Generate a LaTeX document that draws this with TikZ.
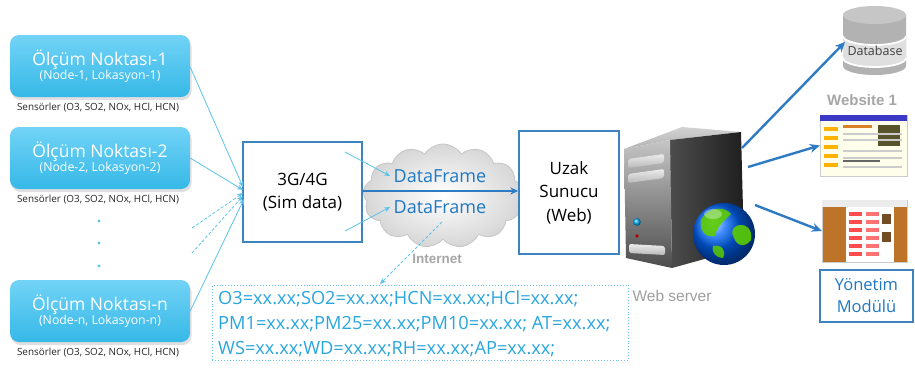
\documentclass[tikz,border=0pt]{standalone}
\usepackage{fontspec}
\setmainfont{Open Sans}
\newfontfamily\arialfont{Liberation Sans}
\usetikzlibrary{shapes.symbols,shadows,arrows.meta}

\definecolor{nodetop}{HTML}{72D3F6}
\definecolor{nodebot}{HTML}{36B8E7}
\definecolor{wire}{HTML}{5CC3EA}
\definecolor{frameblue}{HTML}{3C83C0}
\definecolor{dfblue}{HTML}{1E78C2}
\definecolor{msgblue}{HTML}{2AA6DE}
\definecolor{arrowblue}{HTML}{2E7BC4}
\definecolor{labelgrey}{HTML}{6E6E6E}

\tikzset{
  sensorbox/.style={rounded corners=9pt, top color=nodetop, bottom color=nodebot,
    minimum width=180pt, minimum height=62pt, text=white, align=center,
    drop shadow={opacity=0.25, shadow xshift=1.5pt, shadow yshift=-3pt}},
  sensorlbl/.style={font=\fontsize{9.9}{11}\selectfont, text=black!85},
  framebox/.style={draw=frameblue, line width=1.4pt, fill=white, align=center,
    font=\fontsize{17}{23.5}\selectfont},
  wireline/.style={wire, line width=0.8pt, -{Stealth[length=6pt,width=5pt]}},
  wiredash/.style={wire, line width=0.8pt, densely dashed, -{Stealth[length=6pt,width=5pt]}},
  bigarrow/.style={arrowblue, line width=2.4pt, -{Stealth[length=10pt,width=9pt]}},
  greylbl/.style={font=\arialfont, text=labelgrey},
}

\begin{document}
\begin{tikzpicture}[x=1pt,y=-1pt]
\path[fill=white, use as bounding box] (0,0) rectangle (915,368);

% measuring points
\node[sensorbox] (n1) at (100,66) {{\fontsize{17.5}{19}\selectfont Ölçüm Noktası-1}\\[-1pt]{\fontsize{12.3}{14}\selectfont (Node-1, Lokasyon-1)}};
\node[sensorbox] (n2) at (100,158) {{\fontsize{17.5}{19}\selectfont Ölçüm Noktası-2}\\[-1pt]{\fontsize{12.3}{14}\selectfont (Node-2, Lokasyon-2)}};
\node[sensorbox] (nn) at (100,311) {{\fontsize{17.5}{19}\selectfont Ölçüm Noktası-n}\\[-1pt]{\fontsize{12.3}{14}\selectfont (Node-n, Lokasyon-n)}};
\node[sensorlbl] (s1) at (98,108) {Sensörler (O3, SO2, NOx, HCl, HCN)};
\node[sensorlbl] (s2) at (98,200) {Sensörler (O3, SO2, NOx, HCl, HCN)};
\node[sensorlbl] (sn) at (98,353) {Sensörler (O3, SO2, NOx, HCl, HCN)};
\foreach \yy in {221,243,266} \fill[wire] (99,\yy) circle (1.6);

% gateway
\node[framebox, minimum width=119pt, minimum height=100pt] (g) at (302.5,192) {3G/4G\\(Sim data)};

% links from the measuring points into the gateway
\coordinate (d1) at (192,228);
\coordinate (d2) at (192,253);
\draw[wireline] (n1.east |- 0,67) -- (243,187);
\draw[wireline] (n2.east) -- (243,190);
\draw[wiredash] (d1) -- (243,193);
\draw[wiredash] (d2) -- (243,196);
\draw[wireline] (nn.east) -- (244,199);

% internet cloud
\node[cloud, cloud puffs=13, cloud puff arc=115, aspect=1.6, minimum width=160pt, minimum height=104pt,
  draw=gray!45, line width=0.8pt, inner color=white, outer color=gray!32] (cl) at (443,196) {};
\node[greylbl, font=\arialfont\bfseries\fontsize{13.5}{15}\selectfont, text=gray!70] (inet) at (437,259) {Internet};
\node[text=dfblue, font=\fontsize{18}{20}\selectfont] (df1) at (440,176) {DataFrame};
\node[text=dfblue, font=\fontsize{18}{20}\selectfont] (df2) at (440,207) {DataFrame};
\coordinate (a1) at (345,152);
\coordinate (a2) at (345,231);
\draw[wireline] (a1) -- (df1.west);
\draw[wireline] (a2) -- (df2.west);

% remote server box
\node[framebox, minimum width=100pt, minimum height=123pt] (srvbox) at (569,192.5) {Uzak\\Sunucu\\(Web)};
\draw[arrowblue, line width=1.4pt, -{Stealth[length=8pt,width=7pt]}] (g.east |- 0,191) -- (srvbox.west |- 0,191);

% data frame content
\node[draw=msgblue!70, dotted, line width=0.9pt, minimum width=416pt, minimum height=75pt,
  anchor=north west, inner sep=0pt] (msg) at (212,285) {};
\node[text=msgblue, align=left, anchor=north west, inner sep=0pt,
  font=\fontsize{18.2}{25}\selectfont] (msgtxt) at (218,290)
  {O3=xx.xx;SO2=xx.xx;HCN=xx.xx;HCl=xx.xx;\\PM1=xx.xx;PM25=xx.xx;PM10=xx.xx; AT=xx.xx;\\WS=xx.xx;WD=xx.xx;RH=xx.xx;AP=xx.xx;};
\coordinate (cin) at (442,222);
\draw[wiredash] (cin) -- (380,284);

% web server tower
\shade[top color=gray!35, bottom color=gray!60] (624,149) -- (682,127) -- (741,132) -- (670,140) -- cycle;
\shade[left color=black!70, right color=black!88] (670,140) -- (741,132) -- (744,248) -- (672,268) -- cycle;
\shade[top color=gray!45, bottom color=black!70] (624,149) -- (670,140) -- (672,268) -- (626,258) -- cycle;
\shade[top color=gray!15, bottom color=gray!55, rounded corners=2pt] (628,159) -- (664,154) -- (664,163) -- (628,168) -- cycle;
\shade[top color=gray!15, bottom color=gray!55, rounded corners=2pt] (628,174) -- (664,169) -- (664,178) -- (628,183) -- cycle;
\shade[top color=gray!15, bottom color=gray!55, rounded corners=2pt] (629,244) -- (665,246) -- (665,255) -- (629,253) -- cycle;
\shade[ball color=cyan!70!blue] (637,222) circle (3.8);
\fill[red!70!black] (637,236) circle (1.8);
% globe
\shade[ball color=blue!60!cyan] (724,234) circle (31);
\fill[green!55!yellow!80!black, opacity=0.9] (701,220) .. controls (709,205) and (726,207) .. (731,214)
  .. controls (723,222) and (717,226) .. (715,236) .. controls (707,238) and (699,232) .. (701,220);
\fill[green!55!yellow!80!black, opacity=0.9] (736,226) .. controls (746,222) and (753,230) .. (751,240)
  .. controls (745,248) and (737,246) .. (734,238) .. controls (731,233) and (732,229) .. (736,226);
\fill[green!55!yellow!80!black, opacity=0.85] (713,246) .. controls (721,244) and (727,250) .. (723,258)
  .. controls (717,258) and (711,253) .. (713,246);
\fill[white, opacity=0.35] (713,214) ellipse [x radius=9, y radius=5];
\coordinate (o1) at (742,148);
\coordinate (o2) at (748,167);
\coordinate (o3) at (755,205);
\node[greylbl, font=\arialfont\fontsize{15.5}{17}\selectfont, text=gray!75] (wslbl) at (672,296) {Web server};

% database
\fill[gray!60] (843,15) -- (843,66) arc[start angle=180, end angle=0, x radius=31.5, y radius=9] -- (906,15) -- cycle;
\fill[gray!25] (843,36) arc[start angle=180, end angle=0, x radius=31.5, y radius=9] -- (906,58)
  arc[start angle=0, end angle=180, x radius=31.5, y radius=9] -- cycle;
\fill[gray!45] (874.5,15) ellipse [x radius=31.5, y radius=9];
\draw[white, line width=1.8pt] (843,36) arc[start angle=180, end angle=0, x radius=31.5, y radius=9];
\draw[white, line width=1.8pt] (843,58) arc[start angle=180, end angle=0, x radius=31.5, y radius=9];
\node[font=\fontsize{12.5}{14}\selectfont, text=black!75, inner sep=0pt] (db) at (875,51) {Database};
\coordinate (dbin) at (845,42);

% website screenshot
\node[greylbl, font=\arialfont\bfseries\fontsize{15}{17}\selectfont, text=gray!70] (w1lbl) at (862,100) {Website 1};
\node[draw=gray!40, fill=yellow!8!white, minimum width=87pt, minimum height=61pt, inner sep=0pt] (ws) at (863.5,145.5) {};
\fill[blue!55!gray] (820,115) rectangle (907,121);
\foreach \yy in {127,136,145,154,163} \fill[orange!60!yellow] (824,\yy) rectangle (838,\yy+4);
\fill[olive!50!black] (878,125) rectangle (900,146);
\fill[orange!40!brown] (843,125) rectangle (872,128);
\foreach \yy in {133,139,150,157,166} \fill[gray!40] (843,\yy) rectangle (902,\yy+2);
\fill[black!60] (843,160) rectangle (880,162);

% admin module screenshot
\node[draw=gray!40, fill=brown!70!orange!90!black, minimum width=85pt, minimum height=62pt, inner sep=0pt] (ym) at (864.5,231) {};
\fill[gray!15] (822,200) rectangle (907,207);
\fill[white] (846,207) rectangle (894,262);
\foreach \yy in {212,220,228,236,244,252} {
  \fill[red!60!pink] (849,\yy) rectangle (862,\yy+4);
  \fill[red!40!pink] (866,\yy) rectangle (879,\yy+4);
}
\fill[brown!60!black] (882,214) rectangle (891,224);
\fill[brown!60!black] (882,232) rectangle (891,242);
\node[framebox, text=dfblue, minimum width=93pt, minimum height=52pt, font=\fontsize{16.5}{22}\selectfont] (ymbox) at (866.5,296) {Yönetim\\Modülü};

% outgoing server links
\draw[bigarrow] (o1) -- (dbin);
\draw[bigarrow] (o2) -- (ws.west);
\draw[bigarrow] (o3) -- (ym.west);
\end{tikzpicture}
\end{document}
